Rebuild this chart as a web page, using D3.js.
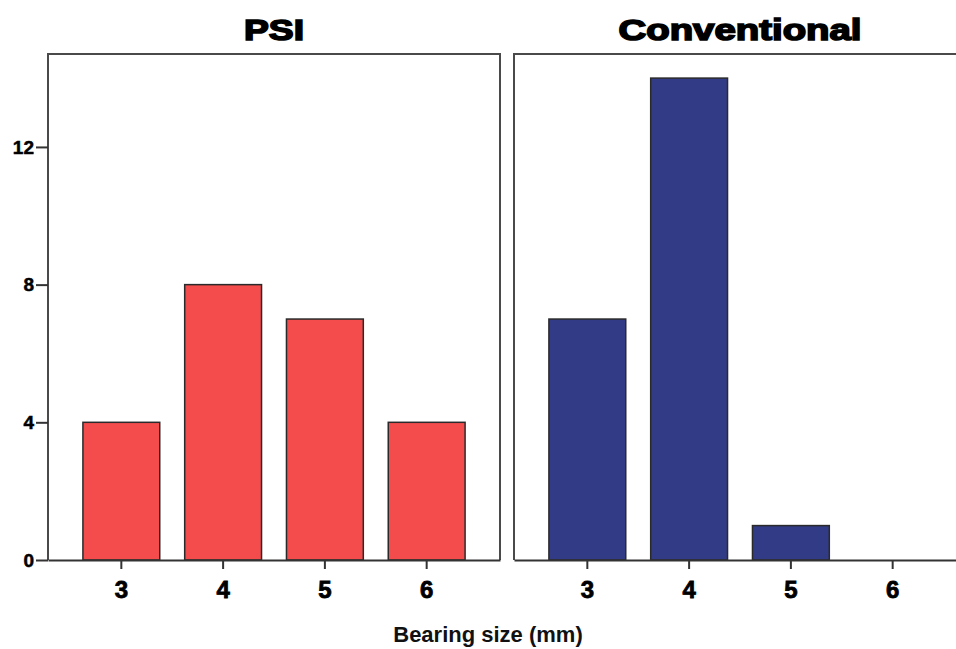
<!DOCTYPE html>
<html lang="en">
<head>
    <meta charset="UTF-8">
    <title>Bearing size</title>
    <style>
        body { margin: 0; background: #fff; }
        text { font-family: "Liberation Sans", Arial, sans-serif; font-weight: bold; }
    </style>
</head>
<body>
    <svg id="chart"></svg>
    <script src="https://d3js.org/d3.v7.min.js"></script>
    <script>
        // data
        const sizes = ['3', '4', '5', '6'];
        const groups = ['PSI', 'Conventional'];
        const psiCounts = [4, 8, 7, 4];
        const convCounts = [7, 14, 1, 0];
        const yTicks = [0, 4, 8, 12];
        const colors = ['#f44c4c', '#323b85'];

        const W = 956, H = 649;
        const svg = d3.select('#chart').attr('width', W).attr('height', H);

        const plotTop = 54, plotBottom = 560;
        const panelW = 452;
        const panelX = [48, 514];

        const y = d3.scaleLinear().domain([0, 14.7]).range([plotBottom, plotTop]);

        const series = [psiCounts, convCounts];

        groups.forEach((g, i) => {
            const x0 = panelX[i];
            const x = d3.scaleBand()
                .domain(sizes)
                .range([x0, x0 + panelW])
                .paddingInner(0.245)
                .paddingOuter(0.343);

            const p = svg.append('g');

            // bars
            p.selectAll('rect.bar')
                .data(sizes.map((s, k) => ({ s, v: series[i][k] })).filter(d => d.v > 0))
                .join('rect')
                .attr('class', 'bar')
                .attr('x', d => x(d.s))
                .attr('y', d => y(d.v))
                .attr('width', x.bandwidth())
                .attr('height', d => y(0) - y(d.v))
                .attr('fill', colors[i])
                .attr('stroke', '#2a2a2a')
                .attr('stroke-width', 1.5);

            // panel frame (left, top, right)
            p.append('path')
                .attr('d', `M${x0},${plotBottom}V${plotTop}H${x0 + panelW}V${plotBottom}`)
                .attr('fill', 'none')
                .attr('stroke', '#4a4a4a')
                .attr('stroke-width', 2);

            // x axis
            const xAxis = p.append('g')
                .attr('transform', `translate(0,${plotBottom})`)
                .call(d3.axisBottom(x).tickSizeInner(9).tickSizeOuter(0).tickPadding(12));
            xAxis.select('.domain').attr('stroke', '#333').attr('stroke-width', 2);
            xAxis.selectAll('.tick line').attr('stroke', '#333').attr('stroke-width', 2);
            xAxis.selectAll('.tick text')
                .attr('font-size', 24)
                .attr('fill', '#000')
                .attr('stroke', '#000')
                .attr('stroke-width', 0.8);

            // title
            p.append('text')
                .attr('x', x0 + panelW / 2)
                .attr('y', 40)
                .attr('text-anchor', 'middle')
                .attr('font-size', 29)
                .attr('stroke', '#000')
                .attr('stroke-width', 1.6)
                .attr('textLength', g === 'PSI' ? 60 : 243)
                .attr('lengthAdjust', 'spacingAndGlyphs')
                .text(g);
        });

        // y axis on the left panel
        const yAxis = svg.append('g')
            .attr('transform', `translate(${panelX[0]},0)`)
            .call(d3.axisLeft(y).tickValues(yTicks).tickSizeInner(12).tickSizeOuter(0).tickPadding(2));
        yAxis.select('.domain').remove();
        yAxis.selectAll('.tick line').attr('stroke', '#333').attr('stroke-width', 2);
        yAxis.selectAll('.tick text')
            .attr('font-size', 19)
            .attr('fill', '#000')
            .attr('stroke', '#000')
            .attr('stroke-width', 0.5);

        // axis title
        svg.append('text')
            .attr('x', 488)
            .attr('y', 642)
            .attr('text-anchor', 'middle')
            .attr('font-size', 22)
            .attr('fill', '#111')
            .text('Bearing size (mm)');
    </script>
</body>
</html>
